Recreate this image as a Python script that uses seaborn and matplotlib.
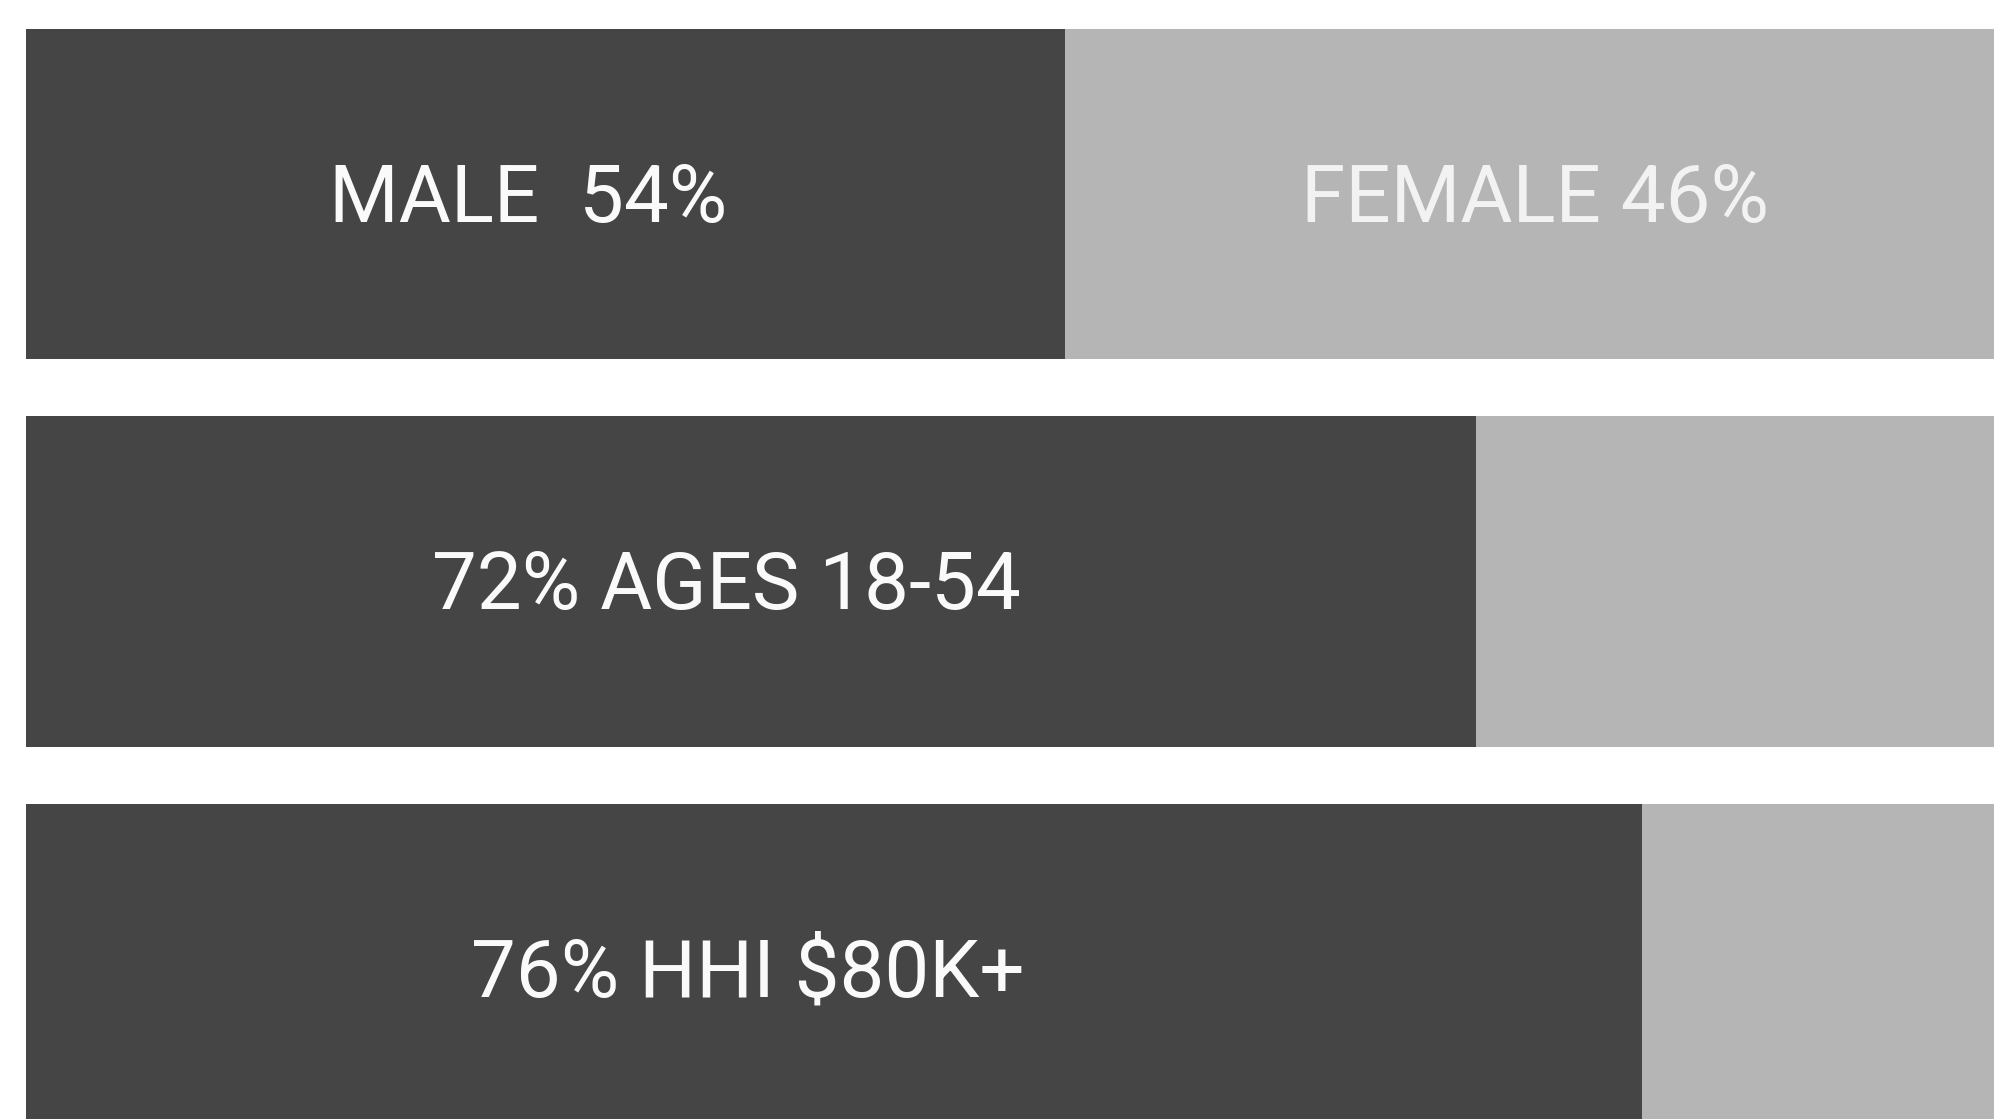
import matplotlib
matplotlib.use("Agg")
import matplotlib.pyplot as plt
import pandas as pd
import seaborn as sns

# audience profile, one row per bar
groups = ["Gender", "Age", "Income"]
dark_share = [52.8, 73.7, 82.1]  # dark segment length as drawn (axis is 0-100)
total_share = [100, 100, 100]
dark_labels = ["MALE  54%", "72% AGES 18-54", "76% HHI $80K+"]
dark_label_x = [25.5, 35.6, 36.7]
light_labels = ["FEMALE 46%"]
light_label_x = [76.7]

DARK = "#454545"
LIGHT = "#b5b5b5"

df = pd.DataFrame({"group": groups, "dark": dark_share, "total": total_share})

sns.set_theme(style="white")
plt.rcParams["font.family"] = ["Roboto", "DejaVu Sans"]

fig = plt.figure(figsize=(19.94, 11.19), dpi=100)
ax = fig.add_axes([26 / 1994, 0, 1968 / 1994, 1])

sns.barplot(data=df, x="total", y="group", orient="h", color=LIGHT,
            saturation=1, width=0.852, linewidth=0, ax=ax)
sns.barplot(data=df, x="dark", y="group", orient="h", color=DARK,
            saturation=1, width=0.852, linewidth=0, ax=ax)

ax.set_xlim(0, 100)
ax.set_ylim(2.387, -0.5006)
ax.set_axis_off()

for i, (txt, x) in enumerate(zip(dark_labels, dark_label_x)):
    ax.text(x, i + 0.072, txt, ha="center", va="baseline",
            fontsize=57.5, color="#fafafa")
for i, (txt, x) in enumerate(zip(light_labels, light_label_x)):
    ax.text(x, i + 0.072, txt, ha="center", va="baseline",
            fontsize=57.5, color="#f2f2f2")

fig.savefig("out.png", dpi=100, facecolor="white")
